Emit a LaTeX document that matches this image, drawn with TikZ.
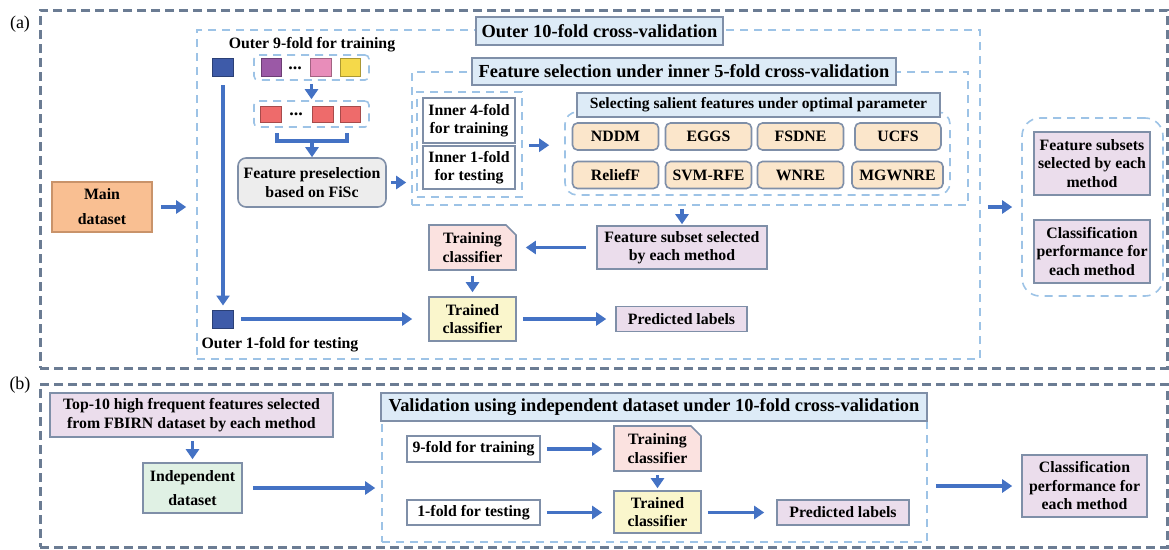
\documentclass[tikz,border=0pt]{standalone}
\usepackage{fontspec}
\setmainfont{Liberation Serif}
\usetikzlibrary{arrows.meta,shapes.misc}
\definecolor{frameC}{HTML}{6B7C93}
\definecolor{dashC}{HTML}{9DC3E6}
\definecolor{arrC}{HTML}{4472C4}
\definecolor{bordC}{HTML}{7F8FA8}
\definecolor{titleF}{HTML}{DDEBF7}
\definecolor{methF}{HTML}{FBE6CB}
\definecolor{lavF}{HTML}{EBDDEC}
\definecolor{pinkF}{HTML}{FBE2E0}
\definecolor{yelF}{HTML}{FAF6CC}
\definecolor{greenF}{HTML}{E0F1E4}
\definecolor{grayF}{HTML}{EDEDED}
\definecolor{orangeF}{HTML}{F9BF92}
\definecolor{orangeD}{HTML}{C9936A}
\definecolor{sqBlue}{HTML}{3E5BA9}
\definecolor{sqPurple}{HTML}{9B59A6}
\definecolor{sqPink}{HTML}{E88DBA}
\definecolor{sqYellow}{HTML}{F5D94A}
\definecolor{sqRed}{HTML}{EE6B6B}
\tikzset{
  bigframe/.style={draw=frameC, line width=3pt, dash pattern=on 9pt off 5pt, inner sep=0pt},
  dframe/.style={draw=dashC, line width=1.6pt, dash pattern=on 8pt off 6pt, inner sep=0pt},
  txt/.style={font=\fontsize{15.8}{18.5}\selectfont\bfseries, align=center, inner sep=0pt},
  box/.style={txt, draw=bordC, line width=1.6pt},
  title/.style={box, fill=titleF, font=\fontsize{18.4}{20}\selectfont\bfseries},
  meth/.style={box, fill=methF, rounded corners=5pt, minimum width=86pt, minimum height=27pt},
  sq/.style={draw=#1!70!black, fill=#1, line width=1pt, minimum width=21pt, minimum height=18pt, inner sep=0pt},
  arr/.style={draw=arrC, line width=3.2pt, -{Triangle[length=10pt,width=13pt]}},
  brk/.style={draw=arrC, line width=3.2pt},
  lbl/.style={font=\fontsize{18}{20}\selectfont, inner sep=0pt},
}
\begin{document}
\begin{tikzpicture}[x=1pt,y=-1pt]
\useasboundingbox (0,0) rectangle (1169,549);
% big frames
\node[bigframe, minimum width=1127pt, minimum height=358pt] (fa) at (603.5,189) {};
\node[bigframe, minimum width=1127pt, minimum height=163pt] (fb) at (603.5,465.5) {};
\node[lbl] (la) at (20,24) {(a)};
\node[lbl] (lb) at (20,385) {(b)};

% ---------- (a) ----------
\node[box, fill=orangeF, draw=orangeD, minimum width=100pt, minimum height=50pt, font=\fontsize{15.8}{25}\selectfont\bfseries] (main) at (102,207) {Main\\dataset};

\node[dframe, minimum width=783pt, minimum height=329pt] (o10) at (588.5,194.5) {};
\node[title, minimum width=247pt, minimum height=28pt] (o10t) at (599.5,31) {Outer 10-fold cross-validation};

\node[txt] (t9) at (312,45) {Outer 9-fold for training};
\node[sq=sqBlue] (sqA) at (223,67.5) {};
\node[dframe, rounded corners=4pt, minimum width=115pt, minimum height=25pt] (g1) at (311.5,67.5) {};
\node[sq=sqPurple, minimum width=20pt] (s1) at (271,67.5) {};
\node[txt, font=\fontsize{18}{20}\selectfont\bfseries] (d1) at (295,68) {...};
\node[sq=sqPink] (s2) at (320.5,67.5) {};
\node[sq=sqYellow, minimum width=20pt] (s3) at (350,67.5) {};
\node[dframe, rounded corners=4pt, minimum width=115pt, minimum height=26pt] (g2) at (311.5,114) {};
\node[sq=sqRed, minimum height=16pt] (r1) at (270.5,114) {};
\node[txt, font=\fontsize{18}{20}\selectfont\bfseries] (d2) at (296,114.5) {...};
\node[sq=sqRed, minimum height=16pt] (r2) at (322.5,114) {};
\node[sq=sqRed, minimum height=16pt, minimum width=20pt] (r3) at (350,114) {};
\node[box, fill=grayF, rounded corners=8pt, minimum width=148pt, minimum height=49pt] (pre) at (312,182.5) {Feature preselection\\based on FiSc};
\node[sq=sqBlue] (sqB) at (223,319) {};
\node[txt] (t1) at (280,345) {Outer 1-fold for testing};

\node[dframe, minimum width=556pt, minimum height=133pt] (fs) at (690,138.5) {};
\node[title, minimum width=424pt, minimum height=27pt] (fst) at (684,71.5) {Feature selection under inner 5-fold cross-validation};
\node[dframe, minimum width=105pt, minimum height=105pt] (ing) at (469.5,144.5) {};
\node[box, fill=white, minimum width=92pt, minimum height=45pt] (in4) at (469,120.5) {Inner 4-fold\\for training};
\node[box, fill=white, minimum width=92pt, minimum height=43pt] (in1) at (469,167.5) {Inner 1-fold\\for testing};

\node[dframe, rounded corners=12pt, minimum width=385pt, minimum height=83pt] (sel) at (757.5,153.5) {};
\node[title, font=\fontsize{15.6}{17}\selectfont\bfseries, minimum width=363pt, minimum height=24pt] (selt) at (758.5,105) {Selecting salient features under optimal parameter};
\node[meth] (m1) at (615.5,136.5) {NDDM};
\node[meth] (m2) at (708.5,136.5) {EGGS};
\node[meth] (m3) at (800.5,136.5) {FSDNE};
\node[meth] (m4) at (898,136.5) {UCFS};
\node[meth] (m5) at (615.5,175) {ReliefF};
\node[meth] (m6) at (708.5,175) {SVM-RFE};
\node[meth] (m7) at (800.5,175) {WNRE};
\node[meth, minimum width=91pt] (m8) at (897.5,175) {MGWNRE};

\node[box, fill=lavF, minimum width=170pt, minimum height=43pt] (fsub) at (682,247.5) {Feature subset selected\\by each method};
\node[box, fill=pinkF, chamfered rectangle, chamfered rectangle corners=north east, chamfered rectangle xsep=5pt, chamfered rectangle ysep=5pt, minimum width=87pt, minimum height=45pt] (trng) at (472.5,247.5) {Training\\classifier};
\node[box, fill=yelF, minimum width=87pt, minimum height=44pt] (trnd) at (472.5,319) {Trained\\classifier};
\node[box, fill=lavF, minimum width=131pt, minimum height=25pt] (pred) at (681.5,319) {Predicted labels};

\node[dframe, rounded corners=18pt, minimum width=141pt, minimum height=178pt] (rg) at (1092.5,207) {};
\node[box, fill=lavF, minimum width=116pt, minimum height=63pt] (fsubs) at (1092,163.5) {Feature subsets\\selected by each\\method};
\node[box, fill=lavF, minimum width=116pt, minimum height=63pt] (cperf) at (1092,251.5) {Classification\\performance for\\each method};

% arrows (a)
\draw[arr, shorten <=8pt, shorten >=10pt] (main.east) -- (main.east -| o10.west);
\draw[arr, shorten <=8pt, shorten >=4pt] (sqA.south) -- (sqB.north);
\draw[arr, shorten <=3pt, shorten >=1pt] (g1.south) -- (g2.north);
\coordinate (bl) at (277,133);
\coordinate (br) at (347,133);
\coordinate (bm) at (312,141);
\draw[brk] (bl) |- (bm) -| (br);
\draw[arr] (bm) -- (pre.north);
\draw[arr, shorten <=4pt, shorten >=5pt] (pre.east) -- (pre.east -| fs.west);
\draw[arr, shorten <=7pt, shorten >=16pt] (sqB.east) -- (sqB.east -| trnd.west);
\draw[arr, shorten <=6pt, shorten >=15pt] (ing.east |- in1.north) -- (sel.west |- in1.north);
\draw[arr, shorten <=3pt, shorten >=1pt] (fs.south -| fsub.north) -- (fsub.north);
\draw[arr, shorten <=10pt, shorten >=9pt] (fsub.west) -- (fsub.west -| trng.east);
\draw[arr, shorten <=5pt, shorten >=4pt] (trng.south) -- (trnd.north);
\draw[arr, shorten <=6pt, shorten >=9pt] (trnd.east) -- (trnd.east -| pred.west);
\draw[arr, shorten <=7pt, shorten >=9pt] (o10.east |- rg.west) -- (rg.west);

% ---------- (b) ----------
\node[box, fill=lavF, minimum width=283pt, minimum height=44pt] (top) at (191.5,415) {Top-10 high frequent features selected\\from FBIRN dataset by each method};
\node[box, fill=greenF, minimum width=99pt, minimum height=50pt, font=\fontsize{15.8}{24}\selectfont\bfseries] (ind) at (192.5,488) {Independent\\dataset};
\node[dframe, minimum width=545pt, minimum height=137pt] (val) at (654.5,473.5) {};
\node[title, minimum width=546pt, minimum height=28pt] (valt) at (654,407) {Validation using independent dataset under 10-fold cross-validation};
\node[box, fill=white, minimum width=133pt, minimum height=26pt] (f9) at (473.5,449) {9-fold for training};
\node[box, fill=white, minimum width=133pt, minimum height=25pt] (f1) at (473.5,512.5) {1-fold for testing};
\node[box, fill=pinkF, chamfered rectangle, chamfered rectangle corners=north east, chamfered rectangle xsep=5pt, chamfered rectangle ysep=5pt, minimum width=87pt, minimum height=45pt] (trng2) at (657.5,448.5) {Training\\classifier};
\node[box, fill=yelF, minimum width=87pt, minimum height=42pt] (trnd2) at (657.5,512) {Trained\\classifier};
\node[box, fill=lavF, minimum width=132pt, minimum height=25pt] (pred2) at (843,512.5) {Predicted labels};
\node[box, fill=lavF, minimum width=125pt, minimum height=62pt] (cperf2) at (1084.5,486) {Classification\\performance for\\each method};

% arrows (b)
\draw[arr, shorten <=3pt, shorten >=3pt] (top.south -| ind.north) -- (ind.north);
\draw[arr, shorten <=10pt, shorten >=6pt] (ind.east) -- (ind.east -| val.west);
\draw[arr, shorten <=6pt, shorten >=11pt] (f9.east) -- (f9.east -| trng2.west);
\draw[arr, shorten <=6pt, shorten >=11pt] (f1.east) -- (f1.east -| trnd2.west);
\draw[arr, shorten <=3pt, shorten >=2pt] (trng2.south) -- (trnd2.north);
\draw[arr, shorten <=6pt, shorten >=12pt] (trnd2.east |- pred2.west) -- (pred2.west);
\draw[arr, shorten <=8pt, shorten >=9pt] (val.east |- cperf2.west) -- (cperf2.west);
\end{tikzpicture}
\end{document}
